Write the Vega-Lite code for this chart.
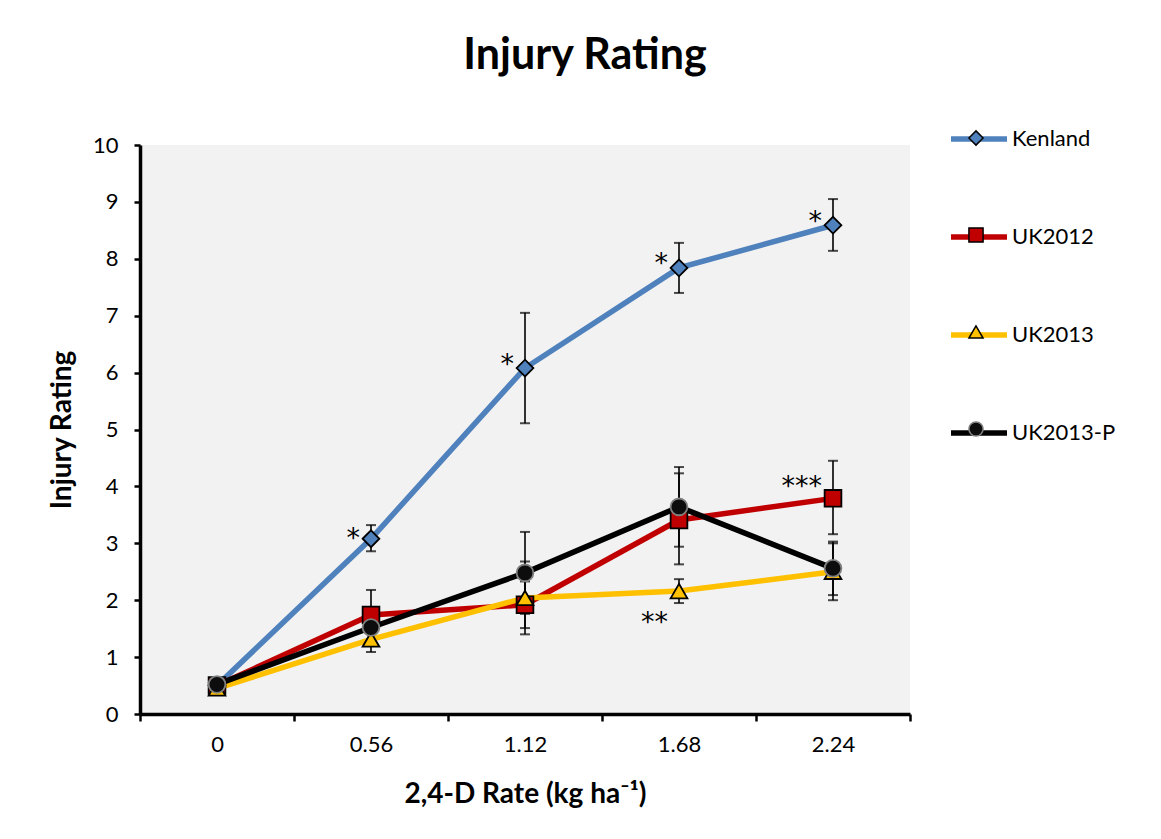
{
  "$schema": "https://vega.github.io/schema/vega-lite/v6.json",
  "width": 770,
  "height": 569,
  "autosize": {"type": "none"},
  "padding": {"left": 140, "top": 145, "right": 251, "bottom": 125},
  "background": "white",
  "title": {
    "text": "Injury Rating",
    "fontSize": 43,
    "fontWeight": "bold",
    "font": "Lato",
    "color": "black",
    "anchor": "middle",
    "dx": 60,
    "offset": 30
  },
  "datasets": {
    "main": [
      {"rate": "0", "series": "Kenland", "value": 0.5, "lo": 0.5, "hi": 0.5},
      {"rate": "0.56", "series": "Kenland", "value": 3.08, "lo": 2.86, "hi": 3.32},
      {"rate": "1.12", "series": "Kenland", "value": 6.08, "lo": 5.11, "hi": 7.05},
      {"rate": "1.68", "series": "Kenland", "value": 7.84, "lo": 7.4, "hi": 8.28},
      {"rate": "2.24", "series": "Kenland", "value": 8.59, "lo": 8.14, "hi": 9.05},
      {"rate": "0", "series": "UK2012", "value": 0.5, "lo": 0.5, "hi": 0.5},
      {"rate": "0.56", "series": "UK2012", "value": 1.74, "lo": 1.3, "hi": 2.18},
      {"rate": "1.12", "series": "UK2012", "value": 1.92, "lo": 1.51, "hi": 2.33},
      {"rate": "1.68", "series": "UK2012", "value": 3.41, "lo": 2.63, "hi": 4.23},
      {"rate": "2.24", "series": "UK2012", "value": 3.79, "lo": 3.16, "hi": 4.45},
      {"rate": "0", "series": "UK2013", "value": 0.45, "lo": 0.45, "hi": 0.45},
      {"rate": "0.56", "series": "UK2013", "value": 1.31, "lo": 1.09, "hi": 1.53},
      {"rate": "1.12", "series": "UK2013", "value": 2.04, "lo": 1.4, "hi": 2.68},
      {"rate": "1.68", "series": "UK2013", "value": 2.16, "lo": 1.95, "hi": 2.37},
      {"rate": "2.24", "series": "UK2013", "value": 2.5, "lo": 2.0, "hi": 3.0},
      {"rate": "0", "series": "UK2013-P", "value": 0.52, "lo": 0.52, "hi": 0.52},
      {"rate": "0.56", "series": "UK2013-P", "value": 1.52, "lo": 1.22, "hi": 1.82},
      {"rate": "1.12", "series": "UK2013-P", "value": 2.48, "lo": 1.76, "hi": 3.2},
      {"rate": "1.68", "series": "UK2013-P", "value": 3.64, "lo": 2.94, "hi": 4.34},
      {"rate": "2.24", "series": "UK2013-P", "value": 2.56, "lo": 2.09, "hi": 3.03}
    ],
    "notes": [
      {"rate": "0.56", "label": "*", "ly": 3.2},
      {"rate": "1.12", "label": "*", "ly": 6.25},
      {"rate": "1.68", "label": "*", "ly": 8.03},
      {"rate": "2.24", "label": "*", "ly": 8.77},
      {"rate": "1.68", "label": "**", "ly": 1.72},
      {"rate": "2.24", "label": "***", "ly": 4.11}
    ]
  },
  "data": {"name": "main"},
  "encoding": {
    "x": {
      "field": "rate",
      "type": "ordinal",
      "bandPosition": 0.5,
      "scale": {"type": "band", "domain": ["0", "0.56", "1.12", "1.68", "2.24"], "paddingInner": 0, "paddingOuter": 0},
      "axis": {
        "title": "2,4-D Rate (kg ha⁻¹)",
        "titleFont": "Lato",
        "titleFontSize": 28,
        "titleFontWeight": "bold",
        "titleColor": "black",
        "titlePadding": 25,
        "labelFont": "Lato",
        "labelFontSize": 22,
        "labelColor": "black",
        "labelAngle": 0,
        "labelPadding": 13,
        "tickBand": "extent",
        "tickSize": 7,
        "tickWidth": 2.5,
        "tickColor": "black",
        "domainColor": "black",
        "domainWidth": 3.5,
        "grid": false
      }
    }
  },
  "layer": [
    {
      "mark": {"type": "line", "strokeWidth": 5.5, "strokeCap": "round"},
      "encoding": {
        "y": {
          "field": "value",
          "type": "quantitative",
          "scale": {"domain": [0, 10], "nice": false},
          "axis": {"title": "Injury Rating", "values": [0, 1, 2, 3, 4, 5, 6, 7, 8, 9, 10], "format": "d"}
        },
        "color": {
          "field": "series",
          "type": "nominal",
          "scale": {"domain": ["Kenland", "UK2012", "UK2013", "UK2013-P"], "range": ["#4f81bd", "#c00000", "#ffc000", "#000000"]},
          "legend": {
            "title": null,
            "orient": "none",
            "legendX": 808,
            "legendY": -37,
            "symbolType": "stroke",
            "symbolSize": 3136,
            "symbolStrokeWidth": 5.5,
            "labelFont": "Lato",
            "labelFontSize": 22,
            "labelColor": "black",
            "labelOffset": 2,
            "rowPadding": 56
          }
        }
      }
    },
    {
      "mark": {"type": "rule", "color": "black", "strokeWidth": 1.6},
      "encoding": {
        "y": {"field": "lo", "type": "quantitative", "axis": {"title": "Injury Rating", "values": [0, 1, 2, 3, 4, 5, 6, 7, 8, 9, 10], "format": "d"}},
        "y2": {"field": "hi"}
      }
    },
    {
      "mark": {"type": "tick", "color": "black", "size": 10, "thickness": 2},
      "encoding": {"y": {"field": "lo", "type": "quantitative", "axis": {"title": "Injury Rating", "values": [0, 1, 2, 3, 4, 5, 6, 7, 8, 9, 10], "format": "d"}}}
    },
    {
      "mark": {"type": "tick", "color": "black", "size": 10, "thickness": 2},
      "encoding": {"y": {"field": "hi", "type": "quantitative", "axis": {"title": "Injury Rating", "values": [0, 1, 2, 3, 4, 5, 6, 7, 8, 9, 10], "format": "d"}}}
    },
    {
      "mark": {"type": "point", "filled": true, "size": 280, "strokeWidth": 1.8, "opacity": 1},
      "encoding": {
        "y": {"field": "value", "type": "quantitative", "axis": {"title": "Injury Rating", "values": [0, 1, 2, 3, 4, 5, 6, 7, 8, 9, 10], "format": "d"}},
        "fill": {
          "field": "series",
          "type": "nominal",
          "scale": {"range": ["#4f81bd", "#c00000", "#ffc000", "#0d0d0d"]},
          "legend": {"title": null, "orient": "none", "legendX": 825, "legendY": -18, "symbolSize": 200, "symbolStrokeWidth": 1.5, "labelFontSize": 22, "labelFont": "Lato", "labelExpr": "''", "rowPadding": 75}
        },
        "stroke": {
          "field": "series",
          "type": "nominal",
          "scale": {"range": ["#000000", "#000000", "#000000", "#808080"]},
          "legend": {"title": null, "orient": "none", "legendX": 825, "legendY": -18, "symbolSize": 200, "symbolStrokeWidth": 1.5, "labelFontSize": 22, "labelFont": "Lato", "labelExpr": "''", "rowPadding": 75}
        },
        "shape": {
          "field": "series",
          "type": "nominal",
          "scale": {"range": ["diamond", "square", "triangle-up", "circle"]},
          "legend": {"title": null, "orient": "none", "legendX": 825, "legendY": -18, "symbolSize": 200, "symbolStrokeWidth": 1.5, "labelFontSize": 22, "labelFont": "Lato", "labelExpr": "''", "rowPadding": 75}
        }
      }
    },
    {
      "data": {"name": "notes"},
      "mark": {"type": "text", "align": "right", "baseline": "alphabetic", "dx": -11, "dy": 15, "fontSize": 27, "font": "DejaVu Sans", "color": "black"},
      "encoding": {
        "y": {"field": "ly", "type": "quantitative", "axis": {"title": "Injury Rating", "values": [0, 1, 2, 3, 4, 5, 6, 7, 8, 9, 10], "format": "d"}},
        "text": {"field": "label"}
      }
    }
  ],
  "config": {
    "view": {"fill": "#f2f2f2", "stroke": null},
    "axisY": {
      "titleFont": "Lato",
      "titleFontSize": 28,
      "titleFontWeight": "bold",
      "titleColor": "black",
      "titlePadding": 16,
      "labelFont": "Lato",
      "labelFontSize": 22,
      "labelColor": "black",
      "labelPadding": 16,
      "tickSize": 6,
      "tickWidth": 2.5,
      "tickColor": "black",
      "domainColor": "black",
      "domainWidth": 3.5,
      "grid": false
    }
  }
}
